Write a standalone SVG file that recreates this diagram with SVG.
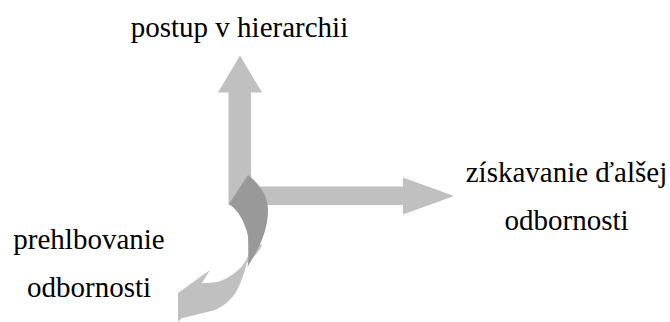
<svg xmlns="http://www.w3.org/2000/svg" width="670" height="322" viewBox="0 0 670 322">
<style>
text{font-family:"Times New Roman",Tinos,"Nimbus Roman","Liberation Serif","DejaVu Serif",serif;font-size:29px;fill:#000;text-anchor:middle}
.l{fill:#c0c0c0}
.d{fill:#999999}
</style>
<rect width="670" height="322" fill="#fff"/>
<g id="connectors">
<polygon class="l" points="228.5,205 228.5,92.5 218,92.5 240,55.5 262,92.5 251,92.5 251,186.5 403,186.5 403,177.5 454,196 403,214.5 403,205"/>
<path class="l" d="M248,238 L262,245 C258,254 250,260 246.7,263.3 C244,275 240,285 236,292 C232,298 226,305 215,310 L195,315 L181.7,318.3 L178,322 L178,293 L210,270 L201.7,283.3 C208,283 214,282.5 218.3,281.7 C224,280 228,278 231.7,275 C236,272 239,269.5 241.7,266.7 C245,262 247,259 248,256 Z"/>
<path class="d" d="M229,204 L248,175 C262,186 268,198 268,210 C268,232 258,250 247.5,267 C249,258 249,246 248,236 C245,222 238,210 229,204 Z"/>
</g>
<g id="n1"><text x="239.5" y="37">postup v hierarchii</text></g>
<g id="n2"><text x="566.5" y="182">získavanie ďalšej</text><text x="566.5" y="230">odbornosti</text></g>
<g id="n3"><text x="89" y="249">prehlbovanie</text><text x="89" y="297">odbornosti</text></g>
</svg>
